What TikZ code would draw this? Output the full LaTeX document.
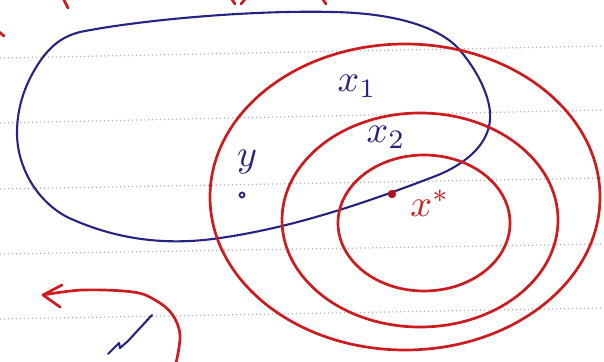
\documentclass[tikz,border=0pt]{standalone}
\definecolor{penred}{RGB}{205,28,32}
\definecolor{penblue}{RGB}{38,36,128}
\tikzset{
  redpen/.style={draw=penred, line width=2.7pt, line cap=round, line join=round},
  bluepen/.style={draw=penblue, line width=2.1pt, line cap=round, line join=round},
  ruled/.style={draw=gray!60, line width=1.2pt, dash pattern=on 1.2pt off 2.8pt},
  lbl/.style={inner sep=0pt}
}
\newcommand{\handmath}[1]{\scalebox{3.8}{$#1$}}
\begin{document}
\begin{tikzpicture}[x=1pt,y=-1pt]
\clip (0,0) rectangle (604,361);
\fill[white] (0,0) rectangle (604,361);
\foreach \a/\b in {58/46,123/110,189/178,254/244,319/308}
  \draw[ruled] (0,\a) -- (604,\b);
\draw[bluepen] (80,32) .. controls (140,20) and (250,10) .. (333,12)
  .. controls (390,13) and (435,25) .. (457,47)
  .. controls (478,70) and (492,100) .. (490,120)
  .. controls (488,145) and (465,165) .. (433,177)
  .. controls (360,205) and (290,228) .. (220,238)
  .. controls (160,247) and (110,237) .. (67,217)
  .. controls (35,200) and (17,165) .. (17,133)
  .. controls (17,100) and (30,75) .. (43,57)
  .. controls (55,42) and (65,36) .. cycle;
\draw[redpen] (405,197) ellipse [x radius=195, y radius=153];
\draw[redpen] (420,220) ellipse [x radius=138, y radius=107];
\draw[redpen] (424,223) ellipse [x radius=86, y radius=68];
\node[circle, fill=penred!80!black, draw=penred, inner sep=0pt, minimum size=8pt] (xdot) at (392,194) {};
\node[lbl, text=penblue] (xone) at (357,86) {\handmath{x_1}};
\node[lbl, text=penblue] (xtwo) at (386,137) {\handmath{x_2}};
\node[lbl, text=penblue] (ylab) at (247,162) {\handmath{y}};
\draw[bluepen, line width=1.8pt] (242,195) circle (2.5pt);
\node[lbl, text=penred] (xstar) at (430,203) {\handmath{x^*}};
\coordinate (tip) at (43,295);
\draw[redpen] plot[smooth, tension=0.6] coordinates {
  (176,363) (180,335) (172,314) (155,300) (133,292) (83,290) (tip)};
\draw[redpen] (62,285) -- (tip) -- (60,307);
\draw[bluepen] (152,315) -- (128,341) -- (120,348) -- (119,343) -- (108,354);
\draw[redpen] (63,-2) -- (68,8);
\draw[redpen] (-2,31) -- (4,36);
\draw[redpen] (231,-2) -- (235,4);
\draw[redpen] (246,-2) -- (241,4);
\draw[redpen] (322,-2) -- (326,4);
\end{tikzpicture}
\end{document}
